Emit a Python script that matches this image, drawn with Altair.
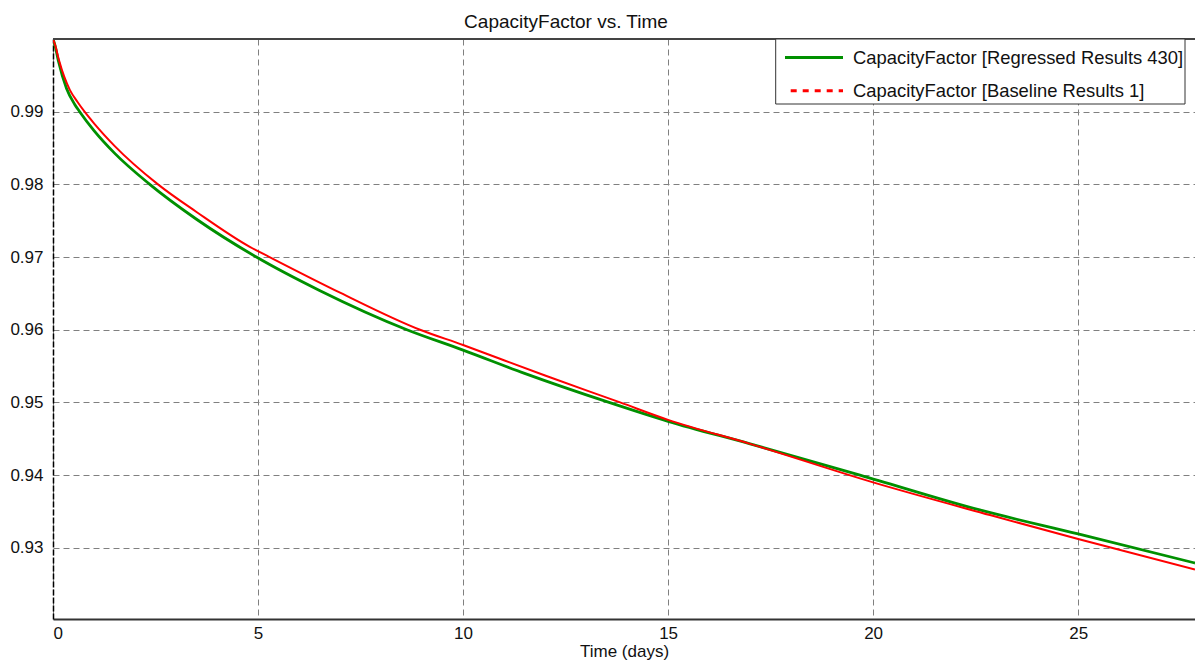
import altair as alt
import pandas as pd

# Regressed Results 430 (green)
green_t = [0, 0.05, 0.13, 0.33, 0.53, 0.65, 1.0, 1.5, 2.36, 3.5, 4.96, 6.5, 8.63, 10.0, 11.5, 13.56, 15.0, 17.0, 19.68, 22.6, 25.0, 27.85]
green_v = [1.0, 0.9991, 0.9970, 0.9932, 0.9910, 0.9900, 0.9874, 0.9843, 0.9800, 0.9752, 0.9700, 0.9654, 0.9600, 0.9572, 0.9540, 0.9500, 0.9474, 0.9443, 0.9400, 0.9352, 0.9319, 0.9279]

# Baseline Results 1 (red)
red_t = [0, 0.05, 0.15, 0.41, 0.59, 0.77, 1.0, 1.5, 2.56, 3.5, 4.8, 5.28, 7.0, 8.95, 10.0, 10.9, 12.0, 13.83, 15.0, 17.0, 20.0, 22.85, 25.0, 27.85]
red_v = [1.0, 0.9992, 0.9970, 0.9930, 0.9914, 0.9900, 0.9884, 0.9853, 0.9800, 0.9762, 0.9714, 0.9700, 0.9651, 0.9600, 0.9579, 0.9560, 0.9537, 0.9500, 0.9476, 0.9443, 0.9390, 0.9345, 0.9312, 0.9270]

x_ticks = [0, 5, 10, 15, 20, 25]
y_ticks = [0.93, 0.94, 0.95, 0.96, 0.97, 0.98, 0.99]
legend_labels = ["CapacityFactor [Regressed Results 430]", "CapacityFactor [Baseline Results 1]"]
title_text = "CapacityFactor vs. Time"

FONT = "Liberation Sans"
W, H = 1142, 580

green_df = pd.DataFrame({"t": green_t, "v": green_v})
red_df = pd.DataFrame({"t": red_t, "v": red_v})
one = pd.DataFrame({"k": [0]})

xs = alt.Scale(domain=[0, 27.85], nice=False, zero=False)
ys = alt.Scale(domain=[0.9202, 1.0], nice=False, zero=False)

x_axis = alt.Axis(values=x_ticks, title="Time (days)", grid=True, gridDash=[6, 4], gridColor="#808080",
                  gridWidth=1, ticks=False, tickSize=0, labelPadding=6, labelFlush=True,
                  domainColor="#333333", domainWidth=2, titlePadding=2)
y_axis = alt.Axis(values=y_ticks, title=None, format=".2f", grid=True, gridDash=[6, 4], gridColor="#808080",
                  gridWidth=1, ticks=False, tickSize=0, labelPadding=10,
                  domainColor="#000000", domainWidth=1.5, domainDash=[6, 2])

base_green = alt.Chart(green_df).mark_line(color="#009000", strokeWidth=2.8, clip=True,
                                           interpolate="monotone").encode(
    x=alt.X("t:Q", scale=xs, axis=x_axis),
    y=alt.Y("v:Q", scale=ys, axis=y_axis),
)
base_red = alt.Chart(red_df).mark_line(color="#ff0000", strokeWidth=2, clip=True,
                                       interpolate="monotone").encode(
    x=alt.X("t:Q", scale=xs),
    y=alt.Y("v:Q", scale=ys),
)

top_border = alt.Chart(one).mark_rule(color="#444444", strokeWidth=2).encode(
    x=alt.value(0), x2=alt.value(W), y=alt.value(0)
)

legend_box = alt.Chart(one).mark_rect(fill="white", stroke="#333333", strokeWidth=1).encode(
    x=alt.value(722.7), x2=alt.value(1132), y=alt.value(0), y2=alt.value(65)
)
leg_green = alt.Chart(one).mark_rule(color="#009000", strokeWidth=3).encode(
    x=alt.value(732), x2=alt.value(790), y=alt.value(18.5)
)
leg_red = alt.Chart(one).mark_rule(color="#ff0000", strokeWidth=3, strokeDash=[6, 6]).encode(
    x=alt.value(737.7), x2=alt.value(790), y=alt.value(51.7)
)
leg_t1 = alt.Chart(one).mark_text(align="left", baseline="middle", font=FONT, fontSize=18.4, color="#111111",
                                  text=legend_labels[0]).encode(x=alt.value(800), y=alt.value(19))
leg_t2 = alt.Chart(one).mark_text(align="left", baseline="middle", font=FONT, fontSize=18.4, color="#111111",
                                  text=legend_labels[1]).encode(x=alt.value(800), y=alt.value(52))

chart = alt.layer(
    base_green, base_red, top_border, legend_box, leg_green, leg_red, leg_t1, leg_t2
).properties(
    width=W, height=H,
    title=alt.TitleParams(title_text, font=FONT, fontSize=19, fontWeight="normal", color="#111111",
                          anchor="middle", dx=-58, offset=6),
    autosize=alt.AutoSizeParams(type="none"),
    padding={"left": 53, "top": 39, "right": 0, "bottom": 53},
).configure_view(stroke=None).configure_axis(
    labelFont=FONT, labelFontSize=17, labelColor="#111111",
    titleFont=FONT, titleFontSize=17, titleFontWeight="normal", titleColor="#111111",
)

chart.save("out.html", embed_options={"renderer": "svg", "actions": False})
